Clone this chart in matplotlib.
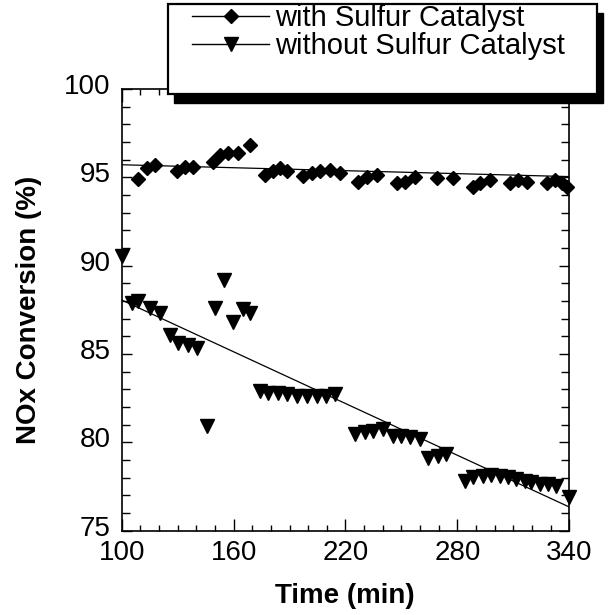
import matplotlib
matplotlib.use("Agg")
import matplotlib.pyplot as plt
from matplotlib.lines import Line2D
from matplotlib.patches import Rectangle
from matplotlib.ticker import MultipleLocator
import matplotlib.transforms as mtransforms

plt.rcParams['font.family'] = ['Liberation Sans', 'DejaVu Sans']

# ---- data ----
time_with = [108.7, 113.6, 117.8, 129.6, 133.9, 138.2, 148.9, 152.7, 156.9, 162.3, 168.7,
             176.8, 181.0, 184.8, 188.5, 197.1, 201.9, 206.2, 211.6, 216.9,
             226.5, 231.4, 236.8, 247.5, 251.8, 257.2, 268.9, 277.5,
             288.2, 292.0, 297.3, 308.0, 312.3, 317.1, 327.8, 332.1, 335.9, 338.5]
nox_with = [94.92, 95.54, 95.71, 95.37, 95.59, 95.59, 95.88, 96.27, 96.38, 96.38, 96.84,
            95.14, 95.37, 95.54, 95.37, 95.08, 95.25, 95.37, 95.42, 95.25,
            94.75, 95.03, 95.14, 94.69, 94.75, 95.03, 94.97, 94.97,
            94.46, 94.69, 94.86, 94.69, 94.86, 94.75, 94.69, 94.86, 94.69, 94.46]

time_without = [100.0, 105.4, 108.9, 115.2, 120.5, 125.9, 130.3, 135.7, 140.2, 145.5,
                150.0, 154.8, 159.8, 165.1, 168.7,
                174.1, 178.5, 183.9, 188.4, 193.8, 199.1, 204.5, 209.8, 214.3,
                225.0, 230.3, 234.8, 240.1, 245.5, 250.0, 254.5, 259.8,
                264.3, 269.6, 274.1,
                283.9, 288.4, 293.7, 298.2, 302.7, 307.1, 311.6, 316.0, 319.6, 324.1,
                328.5, 333.0, 340.1]
nox_without = [90.53, 87.90, 87.98, 87.60, 87.33, 86.08, 85.60, 85.50, 85.35, 80.93,
               87.60, 89.20, 86.80, 87.57, 87.29,
               82.90, 82.80, 82.77, 82.71, 82.62, 82.62, 82.62, 82.62, 82.71,
               80.45, 80.55, 80.64, 80.73, 80.36, 80.36, 80.32, 80.17,
               79.13, 79.23, 79.32,
               77.82, 78.01, 78.10, 78.14, 78.10, 78.01, 77.91, 77.82, 77.72, 77.63,
               77.63, 77.53, 76.88]

fit_time = [100, 340]
fit_with = [95.71, 95.04]
fit_without = [88.05, 76.33]

labels = ['with Sulfur Catalyst', 'without Sulfur Catalyst']
x_ticks = [100, 160, 220, 280, 340]
y_ticks = [75, 80, 85, 90, 95, 100]

# ---- figure ----
W, H = 608, 615
fig = plt.figure(figsize=(W / 100, H / 100), dpi=100)
ax = fig.add_axes([121.7 / W, 1 - 530.5 / H, (569.3 - 121.7) / W, (530.5 - 89) / H])

ax.plot(fit_time, fit_with, color='black', lw=0.9, zorder=2)
ax.plot(fit_time, fit_without, color='black', lw=0.9, zorder=2)
ax.plot(time_with, nox_with, linestyle='none', marker='D', markersize=7.2,
        color='black', clip_on=False, zorder=3)
ax.plot(time_without, nox_without, linestyle='none', marker='v', markersize=9.5,
        color='black', clip_on=False, zorder=3)

ax.set_xlim(100, 340)
ax.set_ylim(75, 100)
ax.set_xticks(x_ticks)
ax.set_yticks(y_ticks)
ax.xaxis.set_minor_locator(MultipleLocator(10))
ax.yaxis.set_minor_locator(MultipleLocator(1))
ax.tick_params(which='both', direction='in', top=True, right=True, width=1.0,
               labelsize=20, colors='black')
ax.tick_params(axis='x', which='major', length=9, pad=7)
ax.tick_params(axis='x', which='minor', length=4)
ax.tick_params(axis='y', which='major', length=7, pad=8)
ax.tick_params(axis='y', which='minor', length=6)
for s in ax.spines.values():
    s.set_linewidth(1.2)

off = mtransforms.ScaledTranslation(0, 5 / 100, fig.dpi_scale_trans)
for lab in ax.get_yticklabels():
    lab.set_transform(lab.get_transform() + off)

ax.set_xlabel('Time (min)', fontsize=20, fontweight='bold')
ax.set_ylabel('NOx Conversion (%)', fontsize=20, fontweight='bold')
ax.xaxis.set_label_coords((345 - 121.7) / (569.3 - 121.7), -(596 - 530.5) / (530.5 - 89))
ax.yaxis.set_label_coords(-(121.7 - 29) / (569.3 - 121.7), 0.5)
ax.xaxis.label.set_va('center')
ax.yaxis.label.set_va('center')

# ---- legend box with shadow ----
bx0, by0, bx1, by1 = 168, 4, 597, 94
fig.patches.append(Rectangle(((bx0 + 6) / W, 1 - (by1 + 9) / H), (bx1 - bx0) / W, (by1 - by0) / H,
                             transform=fig.transFigure, facecolor='black', edgecolor='black',
                             zorder=10))
fig.patches.append(Rectangle((bx0 / W, 1 - by1 / H), (bx1 - bx0) / W, (by1 - by0) / H,
                             transform=fig.transFigure, facecolor='white', edgecolor='black',
                             linewidth=1.6, zorder=11))

handles = [Line2D([], [], color='black', lw=1.0, marker='D', markersize=7.2),
           Line2D([], [], color='black', lw=1.0, marker='v', markersize=9.5)]
leg = fig.legend(handles, labels, loc='upper left', bbox_to_anchor=(192 / W, 1 - 4 / H),
                 frameon=False, fontsize=21, handlelength=2.65, handletextpad=0.2,
                 labelspacing=0.0, borderpad=0.0, borderaxespad=0.0, markerscale=1.0,
                 numpoints=1)
leg.set_zorder(12)

fig.savefig('out.png', dpi=100)
